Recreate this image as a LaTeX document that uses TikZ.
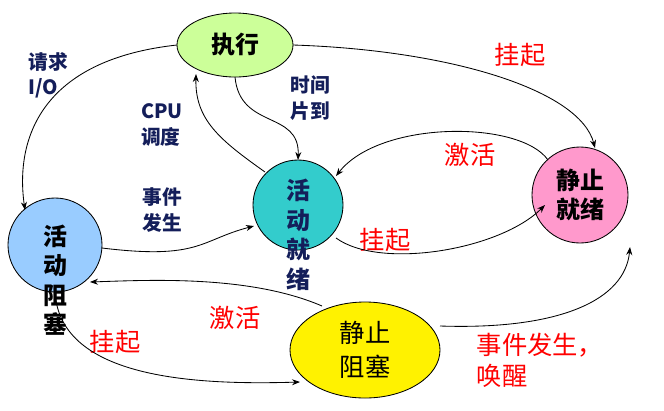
\documentclass[tikz,border=0pt]{standalone}
\usepackage{fontspec}
\setmainfont{Liberation Serif}
\newfontfamily\cjk{Noto Sans CJK SC}
\usetikzlibrary{arrows.meta}
\definecolor{navy}{RGB}{20,30,90}
\definecolor{runfill}{RGB}{204,255,153}
\definecolor{readyfill}{RGB}{51,204,204}
\definecolor{sreadyfill}{RGB}{255,153,204}
\definecolor{blockfill}{RGB}{153,204,255}
\begin{document}
\begin{tikzpicture}[x=0.025cm,y=-0.025cm,
  every node/.style={font=\cjk\fontsize{17}{21}\selectfont\bfseries},
  blue label/.style={text=navy,align=left,font=\cjk\fontsize{14}{18}\selectfont\bfseries},
  red label/.style={text=red,align=left,font=\cjk\fontsize{18}{22}\selectfont},
  link/.style={-Stealth,semithick,black}]
  \useasboundingbox (0,0) rectangle (664,410);

  \draw[semithick,fill=runfill] (235,45) ellipse [x radius=58,y radius=32];
  \node(run) at (235,45) {执行};
  \draw[semithick,fill=readyfill] (298,205) circle [radius=45];
  \node(ready) [align=center,text=navy] at (298,235) {活\\动\\就\\绪};
  \draw[semithick,fill=sreadyfill] (580,195) circle [radius=48];
  \node(sready) [align=center] at (580,195) {静止\\就绪};
  \draw[semithick,fill=blockfill] (55,245) circle [radius=47];
  \node(block) [align=center] at (55,280) {活\\动\\阻\\塞};
  \draw[semithick,fill=yellow] (365,350) ellipse [x radius=75,y radius=48];
  \node(sblock) [align=center,font=\cjk\fontsize{18}{24}\selectfont] at (365,350) {静止\\阻塞};

  \node[blue label] at (48,75) {请求\\I/O};
  \node[blue label] at (162,125) {CPU\\调度};
  \node[blue label] at (310,98) {时间\\片到};
  \node[blue label] at (162,210) {事件\\发生};
  \node[red label] at (520,55) {挂起};
  \node[red label] at (470,155) {激活};
  \node[red label] at (385,240) {挂起};
  \node[red label] at (235,318) {激活};
  \node[red label] at (115,342) {挂起};
  \node[red label] at (540,360) {事件发生，\\唤醒};

  \draw[link] (177,45) .. controls (40,60) and (15,140) .. (25,210);
  \draw[link] (265,172) .. controls (220,140) and (195,120) .. (196,74);
  \draw[link] (235,77) .. controls (240,130) and (300,110) .. (298,160);
  \draw[link] (293,45) .. controls (450,50) and (580,90) .. (595,148);
  \draw[link] (548,160) .. controls (520,120) and (380,120) .. (336,176);
  \draw[link] (336,238) .. controls (380,270) and (500,250) .. (545,205);
  \draw[link] (102,248) .. controls (200,260) and (200,240) .. (254,226);
  \draw[link] (322,306) .. controls (250,275) and (150,280) .. (90,282);
  \draw[link] (55,292) .. controls (60,380) and (200,385) .. (300,382);
  \draw[link] (440,326) .. controls (560,330) and (625,300) .. (630,247);
\end{tikzpicture}
\end{document}
